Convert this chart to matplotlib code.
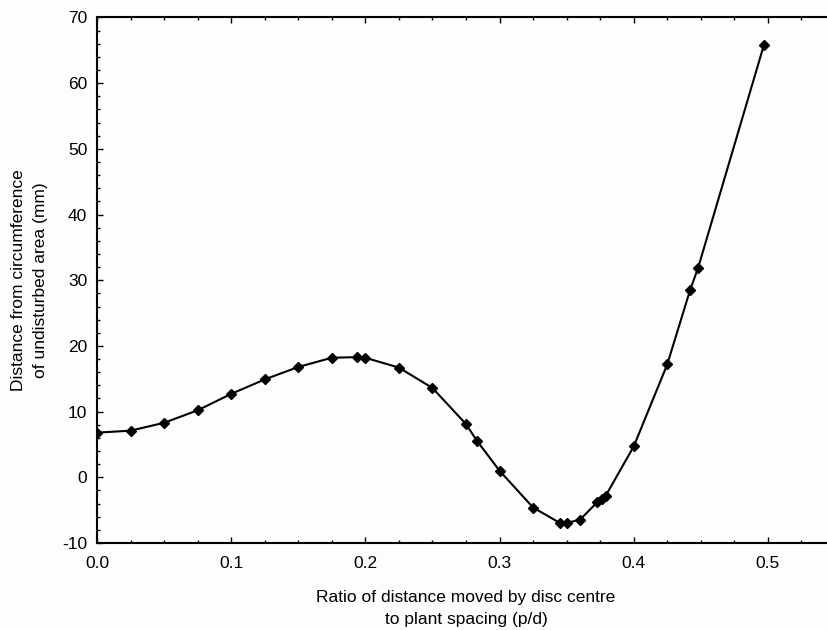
import matplotlib
matplotlib.use("Agg")
import matplotlib.pyplot as plt
from matplotlib.ticker import MultipleLocator

ratio = [0.0, 0.025, 0.05, 0.075, 0.1, 0.125, 0.15, 0.175, 0.194, 0.2, 0.225,
         0.25, 0.275, 0.283, 0.3, 0.325, 0.345, 0.35, 0.36, 0.373, 0.376,
         0.379, 0.4, 0.425, 0.442, 0.448, 0.497]
distance = [6.8, 7.1, 8.3, 10.2, 12.7, 14.9, 16.8, 18.2, 18.3, 18.2, 16.7,
            13.6, 8.1, 5.6, 1.0, -4.6, -6.95, -6.95, -6.45, -3.75, -3.3,
            -2.85, 4.7, 17.2, 28.5, 31.9, 65.8]

xlabel = "Ratio of distance moved by disc centre\nto plant spacing (p/d)"
ylabel = "Distance from circumference\nof undisturbed area (mm)"

plt.rcParams['font.family'] = ['Liberation Sans', 'DejaVu Sans']
plt.rcParams['axes.unicode_minus'] = False

fig = plt.figure(figsize=(8.28, 6.30), dpi=100)
fig.patch.set_facecolor('#fdfdfb')
ax = fig.add_axes([97/828, 87/630, (835-97)/828, (612.5-87)/630])
ax.set_facecolor('#fdfdfb')

ax.plot(ratio, distance, color='black', lw=1.5, marker='D', ms=5.5,
        mfc='black', mec='black')

ax.set_xlim(0, 0.55)
ax.set_ylim(-10, 70)
ax.xaxis.set_major_locator(MultipleLocator(0.1))
ax.xaxis.set_minor_locator(MultipleLocator(0.025))
ax.yaxis.set_major_locator(MultipleLocator(10))
ax.yaxis.set_minor_locator(MultipleLocator(2))
ax.set_xticks([0.0, 0.1, 0.2, 0.3, 0.4, 0.5])
ax.set_xticklabels(['0.0', '0.1', '0.2', '0.3', '0.4', '0.5'])

ax.tick_params(which='both', direction='in', top=True, right=True,
               labelsize=12.5, width=1.0)
ax.tick_params(axis='x', which='both', pad=9)
ax.tick_params(axis='y', which='both', pad=7)
ax.tick_params(which='major', length=4)
ax.tick_params(which='minor', length=2.5)
for s in ax.spines.values():
    s.set_linewidth(1.5)

ax.set_xlabel(xlabel, fontsize=12.5, linespacing=1.55)
ax.xaxis.set_label_coords(0.5, -0.09)
ax.set_ylabel(ylabel, fontsize=12.5, linespacing=1.55)
ax.yaxis.set_label_coords(-0.067, 0.5)

fig.savefig('out.png', dpi=100, facecolor=fig.get_facecolor())
